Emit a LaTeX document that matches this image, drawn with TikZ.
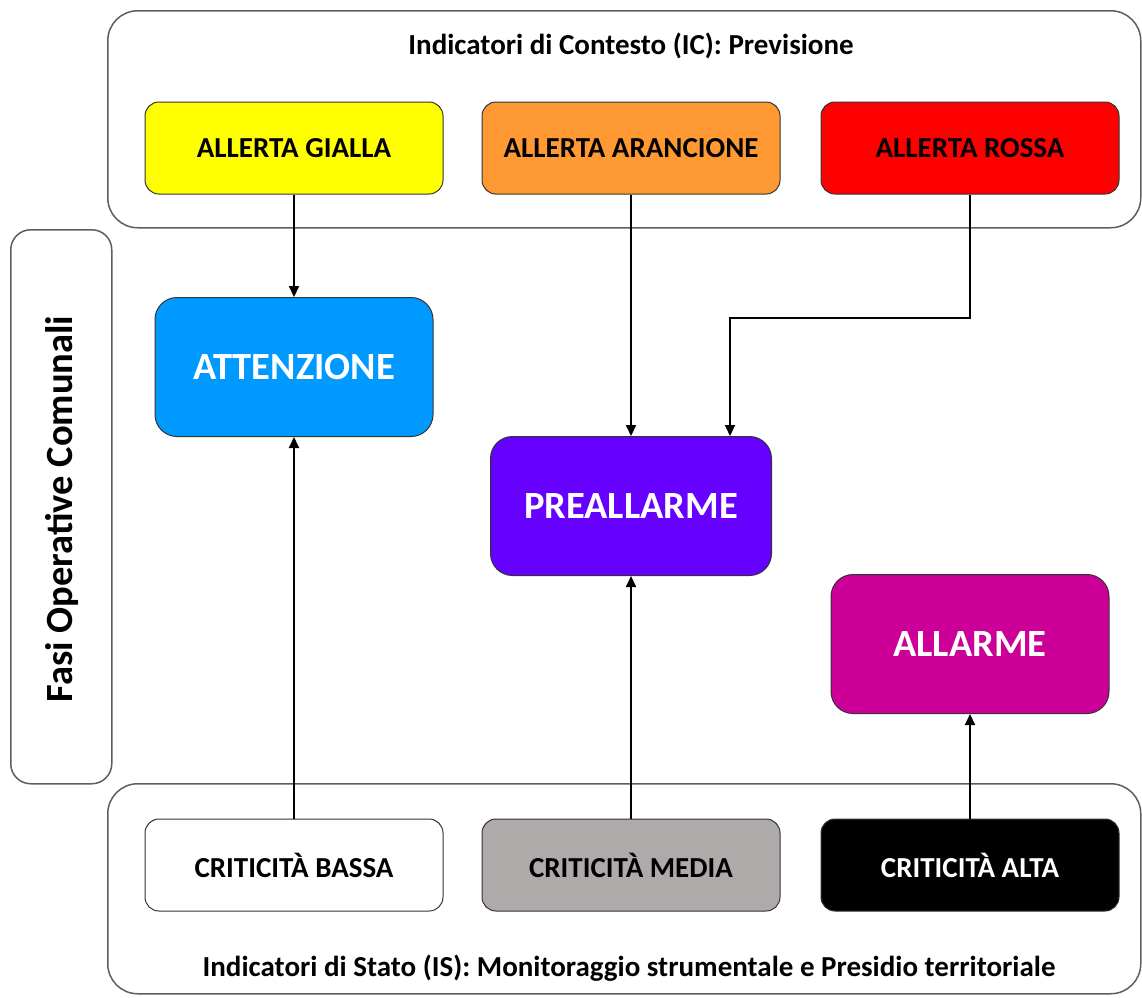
\documentclass[tikz,border=0pt]{standalone}
\usepackage{fontspec}
\setmainfont{Carlito}
\usetikzlibrary{arrows.meta}
\definecolor{cyel}{HTML}{FFFF00}
\definecolor{cora}{HTML}{FF9933}
\definecolor{cred}{HTML}{FF0000}
\definecolor{cblu}{HTML}{0099FF}
\definecolor{cpur}{HTML}{6600FF}
\definecolor{cmag}{HTML}{CC0099}
\definecolor{cgry}{HTML}{AEAAAA}
\definecolor{cframe}{HTML}{5E5E5E}
\tikzset{
  container/.style={draw=cframe, line width=1.5pt, rounded corners=30pt, inner sep=0pt, anchor=north west},
  alertbox/.style={draw=black!80, line width=1pt, rounded corners=14pt, inner sep=0pt,
    minimum width=298pt, minimum height=92pt, font=\bfseries\fontsize{29}{33}\selectfont},
  phasebox/.style={draw=black!80, line width=1pt, rounded corners=22pt, inner sep=0pt,
    minimum width=278pt, minimum height=139pt, text=white, font=\bfseries\fontsize{38.5}{44}\selectfont},
  conn/.style={line width=2pt, -{Triangle[length=11pt,width=10pt]}},
  title/.style={font=\bfseries\fontsize{29}{33}\selectfont},
}
\begin{document}
\begin{tikzpicture}[x=1pt,y=-1pt]
\useasboundingbox (0,0) rectangle (1142,997);
% containers
\node[container, minimum width=1033pt, minimum height=217pt] (ic) at (107,10) {};
\node[container, rounded corners=20pt, minimum width=101pt, minimum height=554pt] (fasi) at (10,229) {};
\node[container, minimum width=1033pt, minimum height=210pt] (is) at (107,783) {};
% titles
\node[title] (ictitle) at (631,46) {Indicatori di Contesto (IC): Previsione};
\node[title] (istitle) at (629,968) {Indicatori di Stato (IS): Monitoraggio strumentale e Presidio territoriale};
\node[font=\bfseries\fontsize{38.5}{44}\selectfont, rotate=90] (fasititle) at (62,509) {Fasi Operative Comunali};
% alert boxes
\node[alertbox, fill=cyel] (gialla) at (294,148) {ALLERTA GIALLA};
\node[alertbox, fill=cora] (arancione) at (631,148) {ALLERTA ARANCIONE};
\node[alertbox, fill=cred] (rossa) at (970,148) {ALLERTA ROSSA};
% phase boxes
\node[phasebox, fill=cblu] (attenzione) at (294,367) {ATTENZIONE};
\node[phasebox, fill=cpur, minimum width=281pt] (preallarme) at (631,506) {PREALLARME};
\node[phasebox, fill=cmag] (allarme) at (970,644) {ALLARME};
% criticity boxes
\node[alertbox, fill=white] (bassa) at (294,865) {CRITICITÀ BASSA};
\node[alertbox, fill=cgry] (media) at (631,865) {CRITICITÀ MEDIA};
\node[alertbox, fill=black, text=white] (alta) at (970,865) {CRITICITÀ ALTA};
% connectors
\draw[conn] (gialla.south) -- (attenzione.north);
\draw[conn] (arancione.south) -- (arancione.south |- preallarme.north);
\coordinate (bend) at (730,318);
\draw[conn] (rossa.south) |- (bend) -- (bend |- preallarme.north);
\draw[conn] (bassa.north) -- (attenzione.south);
\draw[conn] (media.north) -- (preallarme.south);
\draw[conn] (alta.north) -- (allarme.south);
\end{tikzpicture}
\end{document}
